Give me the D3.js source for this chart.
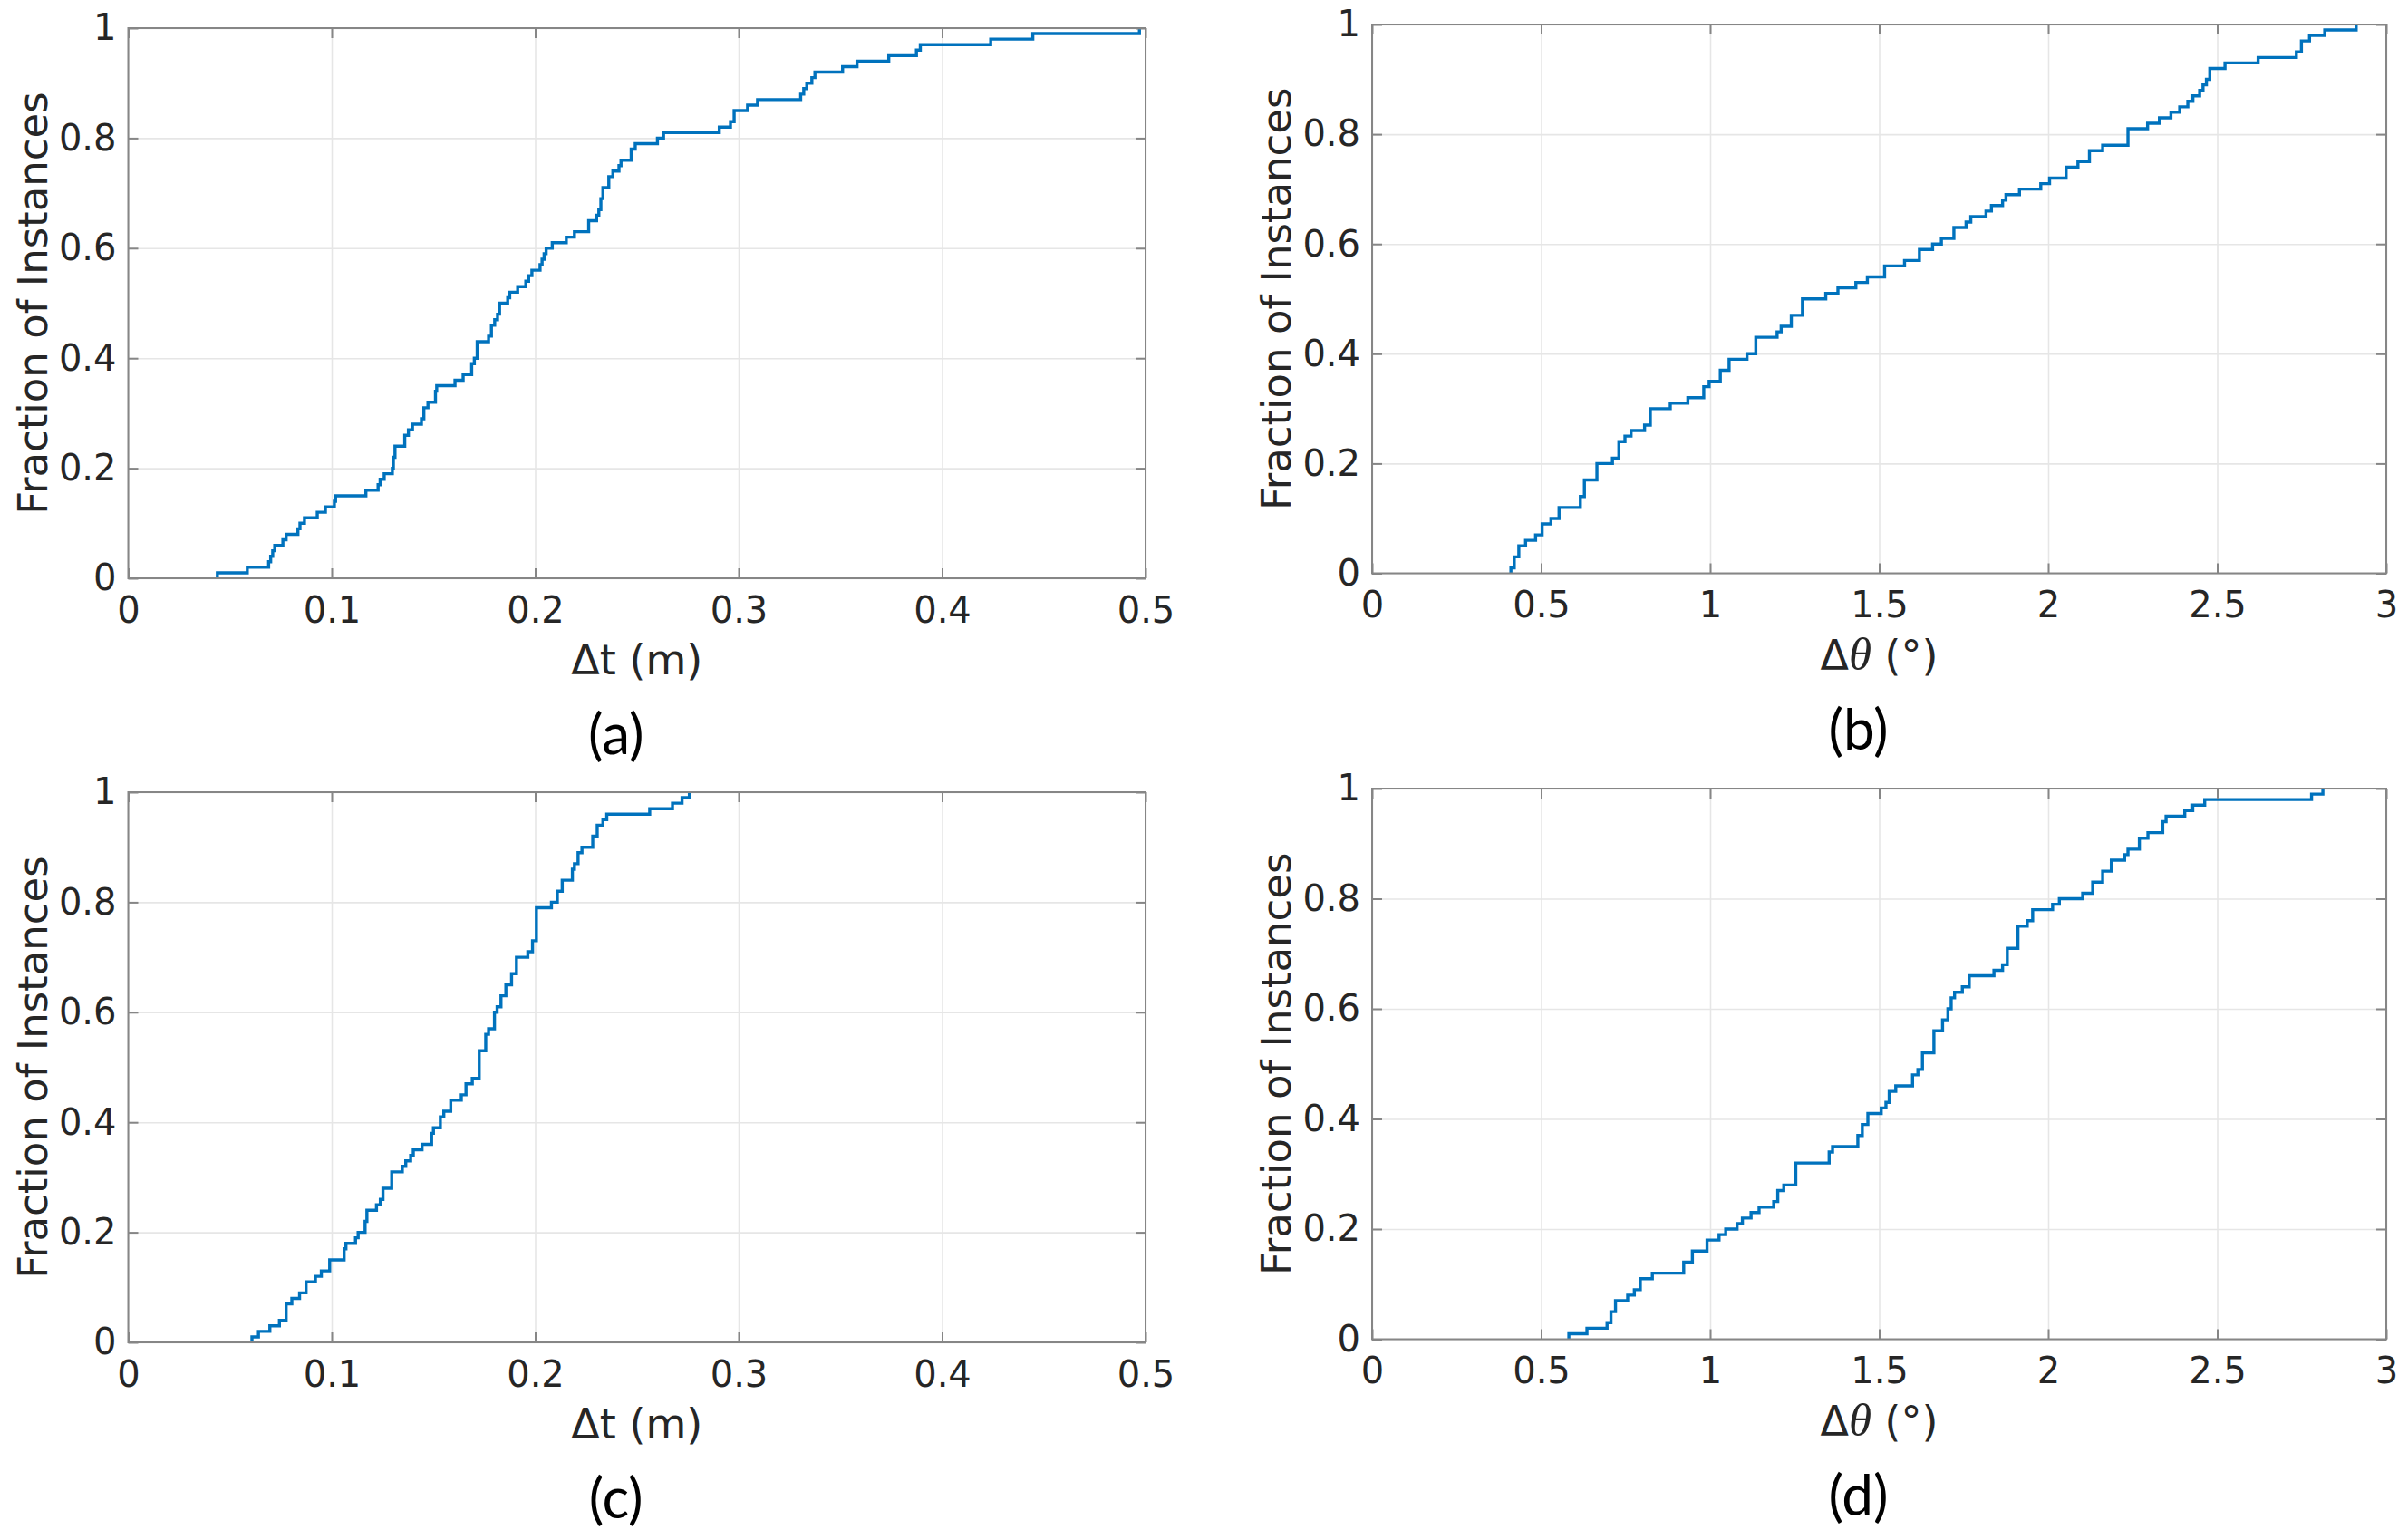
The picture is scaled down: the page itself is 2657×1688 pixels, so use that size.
<!DOCTYPE html>
<html>
<head>
<meta charset="utf-8">
<script src="https://cdn.jsdelivr.net/npm/d3@7"></script>
<style>
  body { margin: 0; background: #fff; }
  svg { display: block; }
</style>
</head>
<body>
<div id="chart"></div>
<script>
// ECDF step corners: [value, fraction after the step]
const dtFirst = [
  [0.0438,0.01],[0.0585,0.02],[0.0690,0.03],[0.0700,0.04],[0.0710,0.05],[0.0720,0.06],
  [0.0760,0.07],[0.0776,0.08],[0.0834,0.09],[0.0844,0.10],[0.0866,0.11],[0.0929,0.12],
  [0.0969,0.13],[0.1013,0.14],[0.1019,0.15],[0.1168,0.16],[0.1228,0.17],[0.1238,0.18],
  [0.1258,0.19],[0.1298,0.20],[0.1303,0.22],[0.1311,0.24],[0.1359,0.26],[0.1377,0.27],
  [0.1397,0.28],[0.1441,0.29],[0.1453,0.31],[0.1473,0.32],[0.1510,0.34],[0.1516,0.35],
  [0.1606,0.36],[0.1646,0.37],[0.1688,0.39],[0.1701,0.40],[0.1715,0.43],[0.1771,0.44],
  [0.1785,0.46],[0.1801,0.47],[0.1815,0.48],[0.1825,0.50],[0.1865,0.51],[0.1875,0.52],
  [0.1914,0.53],[0.1954,0.54],[0.1968,0.55],[0.1984,0.56],[0.2024,0.57],[0.2034,0.58],
  [0.2044,0.59],[0.2054,0.60],[0.2084,0.61],[0.2153,0.62],[0.2193,0.63],[0.2263,0.65],
  [0.2302,0.66],[0.2313,0.67],[0.2323,0.69],[0.2333,0.71],[0.2362,0.73],[0.2382,0.74],
  [0.2412,0.75],[0.2422,0.76],[0.2472,0.78],[0.2492,0.79],[0.2601,0.80],[0.2631,0.81],
  [0.2905,0.82],[0.2960,0.83],[0.2978,0.85],[0.3044,0.86],[0.3093,0.87],[0.3305,0.88],
  [0.3320,0.89],[0.3335,0.90],[0.3360,0.91],[0.3375,0.92],[0.3511,0.93],[0.3582,0.94],
  [0.3738,0.95],[0.3874,0.96],[0.3893,0.97],[0.4239,0.98],[0.4446,0.99],[0.4970,1.00]
];

const dthetaFirst = [
  [0.4106,0.01],[0.4205,0.03],[0.434,0.05],[0.454,0.06],[0.4836,0.07],[0.503,0.09],
  [0.529,0.10],[0.553,0.12],[0.616,0.14],[0.628,0.17],[0.665,0.20],[0.711,0.21],
  [0.730,0.24],[0.748,0.25],[0.766,0.26],[0.806,0.27],[0.823,0.30],[0.882,0.31],
  [0.934,0.32],[0.981,0.34],[0.997,0.35],[1.030,0.37],[1.056,0.39],[1.109,0.40],
  [1.135,0.43],[1.198,0.44],[1.210,0.45],[1.240,0.47],[1.273,0.50],[1.342,0.51],
  [1.378,0.52],[1.431,0.53],[1.465,0.54],[1.516,0.56],[1.575,0.57],[1.619,0.59],
  [1.658,0.60],[1.684,0.61],[1.721,0.63],[1.757,0.64],[1.771,0.65],[1.816,0.66],
  [1.832,0.67],[1.865,0.68],[1.875,0.69],[1.915,0.70],[1.978,0.71],[2.004,0.72],
  [2.053,0.74],[2.088,0.75],[2.122,0.77],[2.161,0.78],[2.236,0.81],[2.294,0.82],
  [2.329,0.83],[2.363,0.84],[2.389,0.85],[2.413,0.86],[2.428,0.87],[2.448,0.88],
  [2.458,0.89],[2.468,0.90],[2.478,0.92],[2.523,0.93],[2.621,0.94],[2.734,0.95],
  [2.749,0.97],[2.773,0.98],[2.818,0.99],[2.911,1.00]
];

const dtSecond = [
  [0.0608,0.01],[0.0640,0.02],[0.0696,0.03],[0.0743,0.04],[0.0776,0.07],[0.0804,0.08],
  [0.0842,0.09],[0.0874,0.11],[0.0920,0.12],[0.0949,0.13],[0.0990,0.15],[0.1061,0.17],
  [0.1070,0.18],[0.1117,0.19],[0.1130,0.20],[0.1164,0.22],[0.1173,0.24],[0.1220,0.25],
  [0.1239,0.26],[0.1252,0.28],[0.1295,0.31],[0.1347,0.32],[0.1364,0.33],[0.1388,0.34],
  [0.1401,0.35],[0.1444,0.36],[0.1491,0.38],[0.1500,0.39],[0.1534,0.41],[0.1551,0.42],
  [0.1585,0.44],[0.1637,0.45],[0.1660,0.47],[0.1691,0.48],[0.1725,0.53],[0.1757,0.56],
  [0.1771,0.57],[0.1800,0.60],[0.1813,0.61],[0.1832,0.63],[0.1856,0.65],[0.1884,0.67],
  [0.1908,0.70],[0.1964,0.71],[0.1987,0.73],[0.2006,0.79],[0.2080,0.80],[0.2109,0.82],
  [0.2133,0.84],[0.2183,0.86],[0.2193,0.87],[0.2211,0.89],[0.2230,0.90],[0.2283,0.92],
  [0.2305,0.94],[0.2333,0.95],[0.2352,0.96],[0.2563,0.97],[0.2675,0.98],[0.2722,0.99],
  [0.2758,1.00]
];

const dthetaSecond = [
  [0.582,0.01],[0.6355,0.02],[0.695,0.03],[0.7066,0.05],[0.72,0.07],[0.756,0.08],
  [0.7757,0.09],[0.7934,0.11],[0.829,0.12],[0.9217,0.14],[0.9474,0.16],[0.9908,0.18],
  [1.0263,0.19],[1.046,0.20],[1.0796,0.21],[1.0954,0.22],[1.121,0.23],[1.1447,0.24],
  [1.188,0.25],[1.2,0.27],[1.2178,0.28],[1.2533,0.32],[1.352,0.34],[1.362,0.35],
  [1.4368,0.37],[1.45,0.39],[1.4665,0.41],[1.506,0.42],[1.52,0.43],[1.5296,0.45],
  [1.549,0.46],[1.5987,0.48],[1.6145,0.49],[1.628,0.52],[1.6619,0.56],[1.6875,0.58],
  [1.7033,0.60],[1.713,0.62],[1.723,0.63],[1.746,0.64],[1.7664,0.66],[1.8395,0.67],
  [1.865,0.68],[1.8789,0.71],[1.9105,0.75],[1.938,0.76],[1.954,0.78],[2.013,0.79],
  [2.033,0.80],[2.102,0.81],[2.1316,0.83],[2.161,0.85],[2.1868,0.87],[2.226,0.88],
  [2.236,0.89],[2.2697,0.91],[2.295,0.92],[2.3388,0.94],[2.3487,0.95],[2.404,0.96],
  [2.4276,0.97],[2.463,0.98],[2.779,0.99],[2.8125,1.00]
];

// Tick values and labels
const dtTicks = [0, 0.1, 0.2, 0.3, 0.4, 0.5];
const dtTickLabels = ["0", "0.1", "0.2", "0.3", "0.4", "0.5"];
const thetaTicks = [0, 0.5, 1, 1.5, 2, 2.5, 3];
const thetaTickLabels = ["0", "0.5", "1", "1.5", "2", "2.5", "3"];
const fracTicks = [0, 0.2, 0.4, 0.6, 0.8, 1];
const fracTickLabels = ["0", "0.2", "0.4", "0.6", "0.8", "1"];
const captions = ["(a)", "(b)", "(c)", "(d)"];

const W = 2657, H = 1688;
const lineColor = "#0072BD";
const boxColor = "#868686";
const gridColor = "#e6e6e6";
const textColor = "#262626";
const sans = "'DejaVu Sans', sans-serif";

const svg = d3.select("#chart")
  .append("svg")
  .attr("width", W)
  .attr("height", H)
  .attr("viewBox", `0 0 ${W} ${H}`);

svg.append("rect").attr("width", W).attr("height", H).attr("fill", "#fff");

// Panel boxes in page pixels
const panels = [
  { data: dtFirst,      box: [141.5, 1264, 31, 638],    xMax: 0.5, ticks: dtTicks,    labels: dtTickLabels,    kind: "t" },
  { data: dthetaFirst,  box: [1514, 2633, 27, 632.5],   xMax: 3,   ticks: thetaTicks, labels: thetaTickLabels, kind: "theta" },
  { data: dtSecond,     box: [141.5, 1264, 874, 1481],  xMax: 0.5, ticks: dtTicks,    labels: dtTickLabels,    kind: "t" },
  { data: dthetaSecond, box: [1514, 2633, 870, 1477.5], xMax: 3,   ticks: thetaTicks, labels: thetaTickLabels, kind: "theta" }
];

panels.forEach((p, idx) => {
  const [left, right, top, bottom] = p.box;
  const width = right - left;
  const height = bottom - top;

  const g = svg.append("g").attr("transform", `translate(${left},${top})`);

  const x = d3.scaleLinear().domain([0, p.xMax]).range([0, width]);
  const y = d3.scaleLinear().domain([0, 1]).range([height, 0]);

  // Grid lines
  g.append("g")
    .attr("transform", `translate(0,${height})`)
    .call(d3.axisBottom(x).tickValues(p.ticks).tickSize(-height).tickFormat(""))
    .call(s => s.select(".domain").remove())
    .call(s => s.selectAll("line").attr("stroke", gridColor).attr("stroke-width", 1.6));
  g.append("g")
    .call(d3.axisLeft(y).tickValues(fracTicks).tickSize(-width).tickFormat(""))
    .call(s => s.select(".domain").remove())
    .call(s => s.selectAll("line").attr("stroke", gridColor).attr("stroke-width", 1.6));

  // Empirical CDF as a stair line
  const pts = [[p.data[0][0], 0]].concat(p.data);
  const line = d3.line()
    .x(d => x(d[0]))
    .y(d => y(d[1]))
    .curve(d3.curveStepAfter);
  g.append("path")
    .datum(pts)
    .attr("fill", "none")
    .attr("stroke", lineColor)
    .attr("stroke-width", 3.4)
    .attr("d", line);

  // Box
  g.append("rect")
    .attr("width", width)
    .attr("height", height)
    .attr("fill", "none")
    .attr("stroke", boxColor)
    .attr("stroke-width", 2);

  // Axes with inward ticks
  const styleAxis = s => {
    s.select(".domain").remove();
    s.selectAll("line").attr("stroke", boxColor).attr("stroke-width", 2);
    s.selectAll("text")
      .attr("fill", textColor)
      .style("font-family", sans)
      .style("font-size", "40px");
  };

  g.append("g")
    .attr("transform", `translate(0,${height})`)
    .call(d3.axisBottom(x).tickValues(p.ticks).tickSize(-11).tickPadding(20.5)
      .tickFormat((d, i) => p.labels[i]))
    .call(styleAxis);
  g.append("g")
    .call(d3.axisTop(x).tickValues(p.ticks).tickSize(-11).tickFormat(""))
    .call(styleAxis);
  g.append("g")
    .call(d3.axisLeft(y).tickValues(fracTicks).tickSize(-11).tickPadding(13)
      .tickFormat((d, i) => fracTickLabels[i]))
    .call(styleAxis);
  g.append("g")
    .attr("transform", `translate(${width},0)`)
    .call(d3.axisRight(y).tickValues(fracTicks).tickSize(-11).tickFormat(""))
    .call(styleAxis);

  // Y label
  g.append("text")
    .attr("transform", `translate(-90,${height / 2}) rotate(-90)`)
    .attr("text-anchor", "middle")
    .attr("fill", textColor)
    .style("font-family", sans)
    .style("font-size", "45px")
    .text("Fraction of Instances");

  // X label
  const xl = g.append("text")
    .attr("x", width / 2)
    .attr("y", height + 106)
    .attr("text-anchor", "middle")
    .attr("fill", textColor)
    .style("font-family", sans)
    .style("font-size", "46px");
  if (p.kind === "t") {
    xl.text("\u0394t (m)");
  } else {
    xl.append("tspan").text("\u0394");
    xl.append("tspan")
      .style("font-family", "'Liberation Serif', serif")
      .style("font-style", "italic")
      .style("font-size", "51px")
      .text("\u03b8");
    xl.append("tspan").text(" (\u00b0)");
  }

  // Caption
  g.append("text")
    .attr("x", width / 2 - 23)
    .attr("y", height + 194)
    .attr("text-anchor", "middle")
    .attr("fill", "#000")
    .style("font-family", "Lato, 'Open Sans', sans-serif")
    .style("font-size", "62px")
    .text(captions[idx]);
});
</script>
</body>
</html>
